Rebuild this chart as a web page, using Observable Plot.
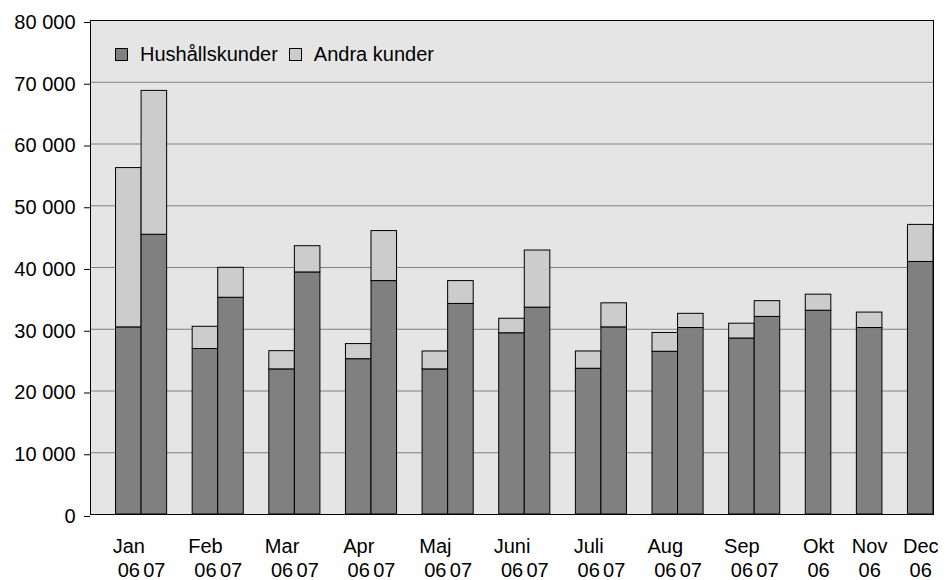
<!DOCTYPE html>
<html>
<head>
<meta charset="utf-8">
<script src="https://cdn.jsdelivr.net/npm/d3@7"></script>
<script src="https://cdn.jsdelivr.net/npm/@observablehq/plot@0.6"></script>
<style>
  body { margin: 0; background: #fff; }
  #wrap { position: relative; width: 947px; height: 580px; font-family: "Liberation Sans", Arial, sans-serif; }
  #legend { position: absolute; left: 115px; top: 44px; display: flex; align-items: center; font-size: 20px; line-height: 20px; color: #000; }
  #legend .sw { width: 11px; height: 11px; border: 1px solid #000; display: inline-block; margin-right: 12px; }
  #legend .item { display: flex; align-items: center; margin-right: 11px; }
</style>
</head>
<body>
<div id="wrap"><div id="legend"></div></div>
<script>
const months = ["Jan","Feb","Mar","Apr","Maj","Juni","Juli","Aug","Sep","Okt","Nov","Dec"];
const years = ["06","07"];
const seriesNames = ["Hushållskunder","Andra kunder"];
const seriesColors = ["#808080","#cccccc"];
const hushall06 = [30300, 26800, 23500, 25150, 23500, 29350, 23600, 26350, 28500, 33000, 30200, 40900];
const andra06   = [25800,  3600,  2950,  2450,  2900,  2350,  2800,  3050,  2400,  2600,  2500,  6000];
const hushall07 = [45300, 35100, 39200, 37800, 34100, 33500, 30300, 30200, 32000];
const andra07   = [23300,  4850,  4250,  8100,  3700,  9250,  3900,  2300,  2550];
const yTicks = [0, 10000, 20000, 30000, 40000, 50000, 60000, 70000, 80000];

// build band domain (bars with empty slots between months)
const slotDomain = [];
let g = 0;
slotDomain.push("gap" + g++);
const rows = [];
const labels = [];
months.forEach((m, i) => {
  const ys = i < hushall07.length ? years : [years[0]];
  ys.forEach((yr, j) => {
    const slot = m + " " + yr;
    slotDomain.push(slot);
    const h = j === 0 ? hushall06[i] : hushall07[i];
    const a = j === 0 ? andra06[i] : andra07[i];
    rows.push({slot, series: seriesNames[0], value: h});
    rows.push({slot, series: seriesNames[1], value: a});
    labels.push({slot, month: j === 0 ? m : null, year: yr});
  });
  if (i < months.length - 1) slotDomain.push("gap" + g++);
});

const fmt = d => d3.format(",")(d).replace(/,/g, " ");

const chart = Plot.plot({
  width: 947,
  height: 580,
  marginLeft: 90,
  marginRight: 14,
  marginTop: 20,
  marginBottom: 66,
  style: {fontFamily: '"Liberation Sans", Arial, sans-serif', fontSize: "20px", background: "transparent", color: "#000", overflow: "visible"},
  x: {type: "band", domain: slotDomain, padding: 0, round: false, axis: null},
  y: {domain: [0, 80000], axis: null, label: null},
  color: {domain: seriesNames, range: seriesColors},
  marks: [
    Plot.frame({fill: "#e5e5e5", stroke: null}),
    Plot.gridY(yTicks, {stroke: "#808080", strokeOpacity: 1, strokeWidth: 1}),
    Plot.barY(rows, {x: "slot", y: "value", fill: "series", stroke: "#000", strokeWidth: 1, inset: 0}),
    Plot.frame({stroke: "#000", strokeWidth: 1}),
    Plot.axisY(yTicks, {tickSize: 6, tickPadding: 9, tickFormat: fmt, fontSize: 20, stroke: "#000", dy: 2, label: null}),
    Plot.text(labels.filter(d => d.month), {x: "slot", text: "month", frameAnchor: "bottom", lineAnchor: "middle", dy: 32, fontSize: 20, fill: "#000"}),
    Plot.text(labels, {x: "slot", text: "year", frameAnchor: "bottom", lineAnchor: "middle", dy: 56, fontSize: 20, fill: "#000"})
  ]
});
document.getElementById("wrap").prepend(chart);
chart.style.position = "absolute";
chart.style.left = "0";
chart.style.top = "0";

const legend = document.getElementById("legend");
seriesNames.forEach((name, i) => {
  const item = document.createElement("span");
  item.className = "item";
  const sw = document.createElement("span");
  sw.className = "sw";
  sw.style.background = seriesColors[i];
  item.appendChild(sw);
  item.appendChild(document.createTextNode(name));
  legend.appendChild(item);
});
</script>
</body>
</html>
